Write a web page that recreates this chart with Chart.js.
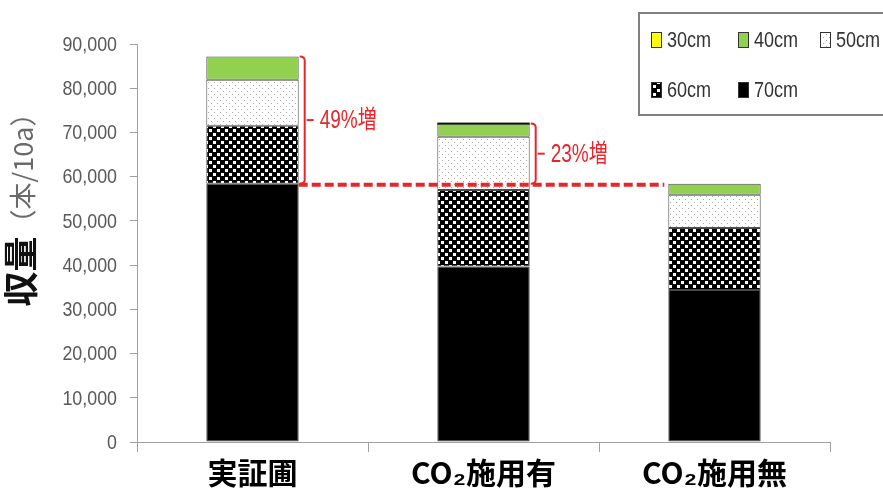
<!DOCTYPE html>
<html><head><meta charset="utf-8">
<script src="https://cdn.jsdelivr.net/npm/chart.js@4/dist/chart.umd.min.js"></script>
<style>html,body{margin:0;padding:0;background:#fff}</style>
</head><body>
<canvas id="c" width="883" height="493"></canvas>
<script>
// ---- data ----
const categories = ['実証圃', 'CO₂施用有', 'CO₂施用無'];
const sizeLabels = ['30cm', '40cm', '50cm', '60cm', '70cm'];
const yield30 = [0, 0, 0];
const yield40 = [5300, 3000, 2500];
const yield50 = [10400, 12000, 7500];
const yield60 = [13100, 17300, 14000];
const yield70 = [58400, 39700, 34400];
const yTickMin = 0, yTickMax = 90000, yTickStep = 10000;
const increaseLabels = ['49%増', '23%増'];
const yTitleMain = '収量';
const yTitleUnit = '（本/10a）';

// ---- patterns ----
function makePattern(w, h, draw) {
  const c = document.createElement('canvas'); c.width = w; c.height = h;
  const g = c.getContext('2d'); draw(g);
  return g.createPattern(c, 'repeat');
}
const dotPat = makePattern(6, 6, g => {
  g.fillStyle = '#fff'; g.fillRect(0, 0, 6, 6);
  g.fillStyle = '#a8a8a8'; g.fillRect(1, 1, 1, 1); g.fillRect(4, 4, 1, 1);
});
const checkPat = makePattern(8, 8, g => {
  g.fillStyle = '#000'; g.fillRect(0, 0, 8, 8);
  g.fillStyle = '#fff'; g.fillRect(1, 1, 3, 3); g.fillRect(5, 5, 3, 3);
});
const fills = { '30cm': '#ffff00', '40cm': '#92d050', '50cm': dotPat, '60cm': checkPat, '70cm': '#000000' };
const seriesBySize = { '30cm': yield30, '40cm': yield40, '50cm': yield50, '60cm': yield60, '70cm': yield70 };

// stacked bottom -> top
const stackOrder = ['70cm', '60cm', '50cm', '40cm', '30cm'];
const datasets = stackOrder.map(s => ({
  label: s, data: seriesBySize[s], backgroundColor: fills[s],
  borderColor: '#4a4a4a', borderWidth: 1, borderSkipped: false,
  categoryPercentage: 1.0, barPercentage: 0.4
}));

const sans = '"Liberation Sans", Arial, sans-serif';
const cjk = '"Noto Sans CJK JP", sans-serif';

function condensedText(ctx, text, x, y, sx, align) {
  ctx.save();
  ctx.translate(x, y);
  ctx.scale(sx, 1);
  ctx.textAlign = align; ctx.textBaseline = 'middle';
  ctx.fillText(text, 0, 0);
  ctx.restore();
}

const yTickPlugin = {
  id: 'yticklabels',
  afterDraw(chart) {
    const ctx = chart.ctx, ys = chart.scales.y;
    ctx.save();
    ctx.fillStyle = '#595959';
    ctx.font = '21px ' + sans;
    ys.ticks.forEach(t => {
      condensedText(ctx, t.value.toLocaleString('en-US'), 117, ys.getPixelForValue(t.value) + 1, 0.85, 'right');
    });
    ctx.restore();
  }
};

const legendPlugin = {
  id: 'customLegend',
  afterDraw(chart) {
    const ctx = chart.ctx;
    ctx.save();
    ctx.fillStyle = '#fff';
    ctx.fillRect(639, 13, 260, 102);
    ctx.strokeStyle = '#808080'; ctx.lineWidth = 2;
    ctx.strokeRect(639, 13, 260, 102);
    const pos = [[651, 40], [738, 40], [820, 40], [651, 90], [738, 90]];
    sizeLabels.forEach((s, i) => {
      const [x, yc] = pos[i];
      ctx.fillStyle = fills[s];
      ctx.fillRect(x, yc - 8, 11, 16);
      ctx.strokeStyle = '#333'; ctx.lineWidth = 1;
      ctx.strokeRect(x + 0.5, yc - 7.5, 10, 15);
      ctx.fillStyle = '#333';
      ctx.font = '22px ' + sans;
      condensedText(ctx, s, x + 16, yc + 1, 0.82, 'left');
    });
    ctx.restore();
  }
};

const annotPlugin = {
  id: 'annot',
  afterDatasetsDraw(chart) {
    const ctx = chart.ctx, ys = chart.scales.y;
    const meta = chart.getDatasetMeta(0);
    const totals = categories.map((_, i) => yield30[i] + yield40[i] + yield50[i] + yield60[i] + yield70[i]);
    const baseY = ys.getPixelForValue(yield70[0]);
    const right = i => meta.data[i].x + meta.data[i].width / 2;
    const left = i => meta.data[i].x - meta.data[i].width / 2;
    ctx.save();
    // dark top edge on the middle bar, as in the source
    ctx.fillStyle = '#111';
    ctx.fillRect(left(1), ys.getPixelForValue(totals[1]) - 1, right(1) - left(1), 2);
    ctx.strokeStyle = '#e8262a'; ctx.fillStyle = '#e8262a';
    ctx.lineWidth = 4; ctx.setLineDash([9, 4]);
    ctx.beginPath(); ctx.moveTo(right(0), baseY + 1); ctx.lineTo(left(2) - 4, baseY + 1); ctx.stroke();
    ctx.setLineDash([]);
    [0, 1].forEach(i => {
      const top = ys.getPixelForValue(totals[i]);
      const xb = right(i) + 6;
      const mid = (top + baseY) / 2;
      ctx.lineWidth = 2;
      ctx.beginPath();
      ctx.moveTo(xb - 5, top);
      ctx.quadraticCurveTo(xb, top, xb, top + 4);
      ctx.lineTo(xb, baseY - 4);
      ctx.quadraticCurveTo(xb, baseY, xb - 5, baseY);
      ctx.stroke();
      ctx.beginPath(); ctx.moveTo(xb + 2, mid); ctx.lineTo(xb + 9, mid); ctx.stroke();
      ctx.font = '25px ' + sans + ', ' + cjk;
      condensedText(ctx, increaseLabels[i], xb + 15, mid + 1, 0.76, 'left');
    });
    ctx.restore();
  }
};

const yTitlePlugin = {
  id: 'ytitle',
  afterDraw(chart) {
    const ctx = chart.ctx;
    ctx.save();
    ctx.translate(21, 203);
    ctx.rotate(-Math.PI / 2);
    ctx.textBaseline = 'middle'; ctx.textAlign = 'left';
    const f1 = 'bold 35px ' + cjk, f2 = '27px ' + cjk;
    ctx.font = f1; const w1 = ctx.measureText(yTitleMain).width;
    ctx.font = f2; const w2 = ctx.measureText(yTitleUnit).width;
    const x = -(w1 + w2) / 2;
    ctx.font = f1; ctx.fillStyle = '#111';
    ctx.fillText(yTitleMain, x, 0);
    ctx.font = f2; ctx.fillStyle = '#6a6a6a';
    ctx.fillText(yTitleUnit, x + w1, 2);
    ctx.restore();
  }
};

new Chart(document.getElementById('c'), {
  type: 'bar',
  data: { labels: categories, datasets },
  options: {
    responsive: false, animation: false,
    layout: { padding: { left: 0, top: 44, right: 53, bottom: 0 } },
    plugins: { legend: { display: false }, tooltip: { enabled: false } },
    scales: {
      x: {
        stacked: true,
        grid: { display: true, drawOnChartArea: false, drawTicks: true, tickLength: 10, color: '#a0a0a0', offset: true },
        border: { display: true, color: '#a0a0a0', width: 1 },
        ticks: { color: '#000', font: { family: cjk, size: 30, weight: 'bold' }, padding: 3, maxRotation: 0 },
        afterFit(s) { s.height = 51; }
      },
      y: {
        stacked: true, min: yTickMin, max: yTickMax,
        grid: { display: true, drawOnChartArea: false, drawTicks: true, tickLength: 7, color: '#a0a0a0' },
        border: { display: true, color: '#a0a0a0', width: 1 },
        ticks: { stepSize: yTickStep, color: 'rgba(0,0,0,0)', padding: 12, font: { family: sans, size: 21 } },
        afterFit(s) { s.width = 137; }
      }
    }
  },
  plugins: [annotPlugin, yTickPlugin, legendPlugin, yTitlePlugin]
});
</script>
</body></html>
